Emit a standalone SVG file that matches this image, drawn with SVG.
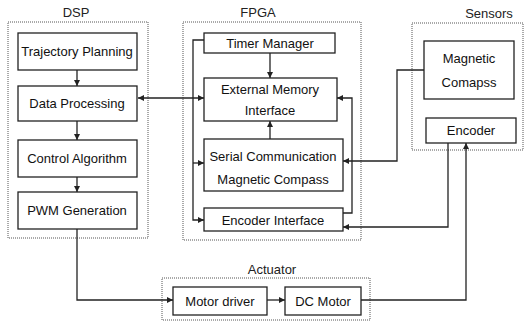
<svg xmlns="http://www.w3.org/2000/svg" width="526" height="329" viewBox="0 0 526 329">
<style>
.grp{fill:none;stroke:#555;stroke-width:1;stroke-dasharray:1 1}
.box{fill:#fff;stroke:#222;stroke-width:1.3}
.t{font-family:"Liberation Sans",Arial,sans-serif;font-size:13px;fill:#111;text-anchor:middle;dominant-baseline:central}
.lbl{font-family:"Liberation Sans",Arial,sans-serif;font-size:13px;fill:#222;text-anchor:middle;dominant-baseline:central}
.c{fill:none;stroke:#222;stroke-width:1.3}
</style>
<defs>
<marker id="a" viewBox="0 0 10 10" refX="10" refY="5" markerWidth="6" markerHeight="6" orient="auto-start-reverse" markerUnits="userSpaceOnUse"><path d="M0 0L10 5L0 10z" fill="#222"/></marker>
</defs>
<rect width="526" height="329" fill="#fff"/>
<g id="dsp-group">
<rect class="grp" x="8" y="22" width="140" height="216"/>
<text class="lbl" x="76" y="12">DSP</text>
</g>
<g id="fpga-group">
<rect class="grp" x="183" y="22" width="178" height="218"/>
<text class="lbl" x="258" y="12">FPGA</text>
</g>
<g id="sensors-group">
<rect class="grp" x="412" y="23" width="111" height="127"/>
<text class="lbl" x="489" y="13">Sensors</text>
</g>
<g id="actuator-group">
<rect class="grp" x="162" y="278" width="208" height="42"/>
<text class="lbl" x="272" y="269">Actuator</text>
</g>
<g id="connectors">
<path class="c" d="M77 70V86" marker-end="url(#a)"/>
<path class="c" d="M77 121V140" marker-end="url(#a)"/>
<path class="c" d="M77 177V192" marker-end="url(#a)"/>
<path class="c" d="M138 98H204" marker-start="url(#a)" marker-end="url(#a)"/>
<path class="c" d="M270 53V78" marker-end="url(#a)"/>
<path class="c" d="M270 139V121" marker-end="url(#a)"/>
<path class="c" d="M204 40H193V220H204" marker-end="url(#a)"/>
<path class="c" d="M193 163H204" marker-end="url(#a)"/>
<path class="c" d="M343 213H352V98H337" marker-end="url(#a)"/>
<path class="c" d="M424 70H397V161H343" marker-end="url(#a)"/>
<path class="c" d="M448 143V227H343" marker-end="url(#a)"/>
<path class="c" d="M361 300H466V143" marker-end="url(#a)"/>
<path class="c" d="M77 229V300H173" marker-end="url(#a)"/>
<path class="c" d="M267 300H285" marker-end="url(#a)"/>
</g>
<g id="trajectory-planning"><rect class="box" x="18" y="33" width="119" height="37"/><text class="t" x="77" y="51">Trajectory Planning</text></g>
<g id="data-processing"><rect class="box" x="18" y="86" width="119" height="35"/><text class="t" x="77" y="103">Data Processing</text></g>
<g id="control-algorithm"><rect class="box" x="18" y="140" width="119" height="37"/><text class="t" x="77" y="158">Control Algorithm</text></g>
<g id="pwm-generation"><rect class="box" x="18" y="192" width="119" height="37"/><text class="t" x="77" y="210">PWM Generation</text></g>
<g id="timer-manager"><rect class="box" x="204" y="33" width="131" height="20"/><text class="t" x="270" y="43">Timer Manager</text></g>
<g id="external-memory"><rect class="box" x="204" y="78" width="133" height="43"/><text class="t" x="270" y="89">External Memory</text><text class="t" x="270" y="110">Interface</text></g>
<g id="serial-communication"><rect class="box" x="204" y="139" width="139" height="52"/><text class="t" x="273" y="156">Serial Communication</text><text class="t" x="273" y="179">Magnetic Compass</text></g>
<g id="encoder-interface"><rect class="box" x="204" y="208" width="139" height="23"/><text class="t" x="273" y="220">Encoder Interface</text></g>
<g id="magnetic-compass"><rect class="box" x="424" y="41" width="90" height="58"/><text class="t" x="469" y="58">Magnetic</text><text class="t" x="469" y="82">Comapss</text></g>
<g id="encoder"><rect class="box" x="426" y="118" width="90" height="25"/><text class="t" x="471" y="130">Encoder</text></g>
<g id="motor-driver"><rect class="box" x="173" y="287" width="94" height="28"/><text class="t" x="220" y="301">Motor driver</text></g>
<g id="dc-motor"><rect class="box" x="285" y="287" width="76" height="28"/><text class="t" x="323" y="301">DC Motor</text></g>
</svg>
